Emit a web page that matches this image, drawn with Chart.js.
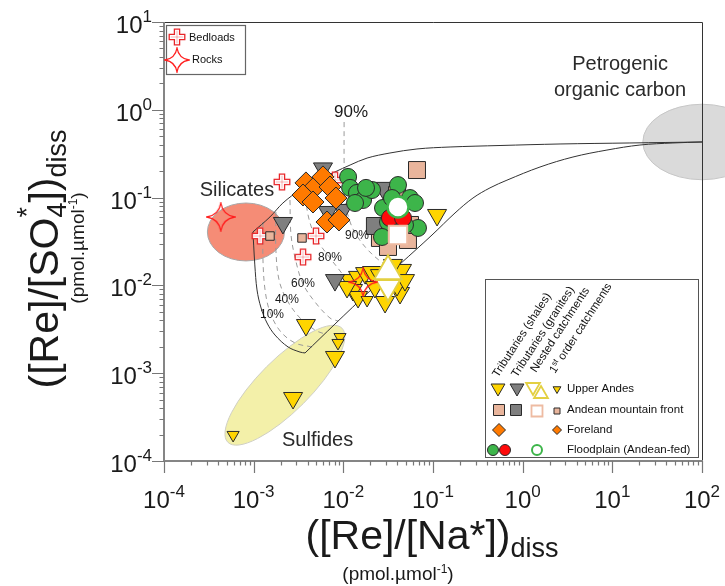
<!DOCTYPE html>
<html><head><meta charset="utf-8">
<script src="https://cdn.jsdelivr.net/npm/chart.js@4.4.1/dist/chart.umd.min.js"></script>
<style>html,body{margin:0;padding:0;background:#fff;}#wrap{width:725px;height:586px;}</style>
</head><body><div id="wrap"><canvas id="c" width="725" height="586"></canvas></div>
<script>
// ---------- tick labels (exponents of 10) ----------
const xTickExps = [-4, -3, -2, -1, 0, 1, 2];
const yTickExps = [-4, -3, -2, -1, 0, 1];

// ---------- Upper Andes ----------
const uaShaleX = [0.111, 3.83e-3, 8.07e-3, 2.75e-3, 1.19e-2, 1.46e-2, 1.75e-2, 2.09e-2, 1.28e-2, 1.46e-2, 2.92e-2, 4.29e-2, 3.97e-2, 4.51e-2, 3.58e-2, 2.56e-2, 4.87e-2, 2.25e-2, 1.10e-2];
const uaShaleY = [0.0634, 3.54e-3, 1.53e-3, 5.22e-4, 1.15e-2, 1.25e-2, 1.38e-2, 1.42e-2, 8.87e-3, 7.38e-3, 6.47e-3, 8.19e-3, 1.01e-2, 1.50e-2, 1.71e-2, 1.31e-2, 1.15e-2, 9.6e-3, 9.6e-3];
const uaGraniteX = [5.93e-3, 2.12e-3, 6.74e-3, 9.91e-3, 2.77e-2, 8.07e-3];
const uaGraniteY = [0.215, 0.0514, 0.0686, 0.0723, 0.129, 1.15e-2];
const uaNestedDownX = [3.15e-2];
const uaNestedDownY = [9.6e-3];
const uaNestedUpX = [3.15e-2];
const uaNestedUpY = [1.45e-2];
const uaFirstX = [9.18e-3, 8.72e-3, 5.9e-4, 1.84e-2];
const uaFirstY = [2.58e-3, 2.21e-3, 1.98e-4, 6.82e-3];

// ---------- Andean mountain front ----------
const amfShaleX = [6.63e-2, 2.56e-2, 5.26e-2, 3.15e-2, 3.97e-2, 5.54e-2];
const amfShaleY = [0.206, 0.0347, 0.0329, 0.0274, 0.107, 0.0488];
const amfGraniteX = [2.25e-2];
const amfGraniteY = [0.0475];
const amfNestedX = [4.07e-2];
const amfNestedY = [0.0375];
const amfFirstX = [1.52e-3, 3.46e-3];
const amfFirstY = [0.0365, 0.0347];

// ---------- Foreland ----------
const forelandX = [3.83e-3, 4.95e-3, 5.93e-3, 7.10e-3, 3.55e-3, 4.59e-3, 8.28e-3, 6.57e-3, 8.95e-3];
const forelandY = [0.147, 0.136, 0.172, 0.132, 0.107, 0.0891, 0.0989, 0.0527, 0.0556];

// ---------- Floodplain (Andean-fed) ----------
const floodGreenX = [1.13e-2, 1.19e-2, 1.42e-2, 1.66e-2, 1.35e-2, 2.09e-2, 4.07e-2, 5.54e-2, 6.30e-2, 2.77e-2, 3.15e-2, 2.70e-2, 6.80e-2, 4.87e-2, 3.49e-2, 1.79e-2];
const floodGreenY = [0.172, 0.129, 0.113, 0.0939, 0.0868, 0.122, 0.139, 0.0989, 0.0868, 0.0762, 0.0527, 0.0356, 0.0451, 0.0488, 0.0989, 0.129];
const floodRedX = [3.31e-2, 4.63e-2];
const floodRedY = [0.0586, 0.0586];
const floodNestedX = [4.07e-2];
const floodNestedY = [0.0782];

// ---------- Bedloads & rocks ----------
const bedloadX = [2.07e-3, 8.07e-3, 1.18e-3, 4.95e-3, 3.55e-3];
const bedloadY = [0.151, 0.158, 0.0365, 0.0365, 0.0210];
const rockX = [4.3e-4, 1.66e-2];
const rockY = [0.0602, 0.0109];

// ---------- mixing envelope ----------
const silToPocX = [9.8e-4, 1.52e-3, 2.12e-3, 3.29e-3, 5.22e-3, 8.07e-3, 1.19e-2, 1.84e-2, 3.31e-2, 6.63e-2, 0.155, 0.559, 2.61, 15.7, 100];
const silToPocY = [0.0406, 0.0602, 0.0868, 0.122, 0.158, 0.196, 0.235, 0.282, 0.322, 0.358, 0.377, 0.392, 0.408, 0.419, 0.430];
const sulToPocX = [3.74e-3, 8.07e-3, 1.98e-2, 4.29e-2, 9.75e-2, 0.176, 0.279, 0.432, 0.668, 1.56, 3.64, 8.71, 20.3, 47.4, 100];
const sulToPocY = [1.70e-3, 3.63e-3, 8.64e-3, 1.75e-2, 3.75e-2, 6.68e-2, 0.0989, 0.129, 0.158, 0.223, 0.290, 0.348, 0.397, 0.419, 0.430];
const silToSulX = [9.8e-4, 1.0e-3, 1.03e-3, 1.09e-3, 1.21e-3, 1.41e-3, 1.73e-3, 2.42e-3, 3.29e-3, 3.74e-3];
const silToSulY = [0.0406, 0.0288, 0.0171, 8.87e-3, 5.53e-3, 3.73e-3, 2.72e-3, 1.99e-3, 1.74e-3, 1.70e-3];

// ---------- fraction contours (dashed) ----------
const pct10X = [1.27e-3, 1.27e-3, 1.34e-3, 1.52e-3, 1.97e-3, 2.89e-3, 4.47e-3];
const pct10Y = [0.0527, 0.0195, 8.87e-3, 4.98e-3, 3.03e-3, 2.21e-3, 1.99e-3];
const pct40X = [1.77e-3, 1.77e-3, 1.92e-3, 2.35e-3, 3.29e-3, 4.83e-3, 6.24e-3];
const pct40Y = [0.0686, 0.0253, 0.0115, 6.82e-3, 4.25e-3, 3.10e-3, 2.79e-3];
const pct60X = [2.54e-3, 2.61e-3, 2.97e-3, 3.55e-3, 4.83e-3, 7.10e-3, 8.72e-3];
const pct60Y = [0.0939, 0.0375, 0.0185, 0.0104, 6.47e-3, 4.25e-3, 3.93e-3];
const pct80X = [3.74e-3, 4.04e-3, 4.95e-3, 7.10e-3, 9.91e-3, 1.25e-2, 1.46e-2];
const pct80Y = [0.129, 0.0634, 0.0347, 0.0205, 0.0131, 8.41e-3, 6.31e-3];
const pct90X = [1.02e-2, 1.02e-2, 1.04e-2, 1.19e-2, 1.42e-2, 1.88e-2, 2.56e-2, 3.58e-2];
const pct90Y = [0.726, 0.268, 0.0939, 0.0527, 0.0365, 0.0253, 0.0190, 0.0150];

// ---------- end-member fields & labels ----------
const regions = [
  {x: 8.2e-4, y: 0.0406, rx: 0.43, ry: 0.33, rot: 0, fill: '#F58C76', stroke: '#A8A8A8'},
  {x: 2.23e-3, y: 7.3e-4, rx: 0.90, ry: 0.29, rot: -45, fill: '#F3F0A9', stroke: '#CFCFC4'},
  {x: 100, y: 0.43, rx: 0.66, ry: 0.43, rot: 0, fill: '#DADADA', stroke: '#C6C6C6'}
];
const labelText = ['Silicates', 'Sulfides', 'Petrogenic', 'organic carbon', '90%', '90%', '80%', '60%', '40%', '10%'];
const labelX = [2.5e-4, 2.07e-3, 12.2, 12.2, 1.22e-2, 1.42e-2, 7.10e-3, 3.55e-3, 2.35e-3, 1.60e-3];
const labelY = [0.122, 1.73e-4, 3.24, 1.64, 0.944, 0.0365, 0.0205, 0.0104, 6.82e-3, 4.60e-3];

// =====================================================
const FONT = "'Liberation Sans', Arial, Helvetica, sans-serif";
const C = {yellow:'#FFD500', gray:'#7F7F7F', salmon:'#E9B59C', orange:'#FF7A00', green:'#3DB54A', red:'#FF0A0A',
  openYellow:'#E3D042', openSalmon:'#EEBBA2', edge:'#2A2A2A', crossRed:'#E8262A'};

function pts(xs, ys){ return xs.map((x, i) => ({x: x, y: ys[i]})); }

function makeCross(){
  const c = document.createElement('canvas'); c.width = 18; c.height = 18;
  const g = c.getContext('2d'); g.translate(9, 9);
  const a = 2.6, L = 7.8;
  g.beginPath();
  g.moveTo(-a,-L); g.lineTo(a,-L); g.lineTo(a,-a); g.lineTo(L,-a); g.lineTo(L,a); g.lineTo(a,a);
  g.lineTo(a,L); g.lineTo(-a,L); g.lineTo(-a,a); g.lineTo(-L,a); g.lineTo(-L,-a); g.lineTo(-a,-a); g.closePath();
  g.fillStyle = '#fff'; g.fill(); g.strokeStyle = C.crossRed; g.lineWidth = 1.3; g.stroke();
  g.beginPath(); g.moveTo(0,-L+1.5); g.lineTo(0,L-1.5); g.moveTo(-L+1.5,0); g.lineTo(L-1.5,0);
  g.strokeStyle = 'rgba(232,38,42,0.35)'; g.lineWidth = 1; g.stroke();
  return c;
}
function makeStar(size){
  const c = document.createElement('canvas'); c.width = size; c.height = size;
  const g = c.getContext('2d'); const h = size / 2, R = h - 1, k = R * 0.14;
  g.translate(h, h);
  g.beginPath(); g.moveTo(0, -R);
  g.quadraticCurveTo(k, -k, R, 0); g.quadraticCurveTo(k, k, 0, R);
  g.quadraticCurveTo(-k, k, -R, 0); g.quadraticCurveTo(-k, -k, 0, -R); g.closePath();
  g.strokeStyle = '#FF1E1E'; g.lineWidth = 1.3; g.stroke();
  return c;
}
const crossImg = makeCross();
const starImg = makeStar(30);
const starSmall = makeStar(26);

function pointSet(label, xs, ys, o){
  return Object.assign({label: label, data: pts(xs, ys), showLine: false, borderWidth: 1, borderColor: C.edge}, o);
}
function curve(label, xs, ys, dashed){
  return {label: label, data: pts(xs, ys), showLine: true, pointRadius: 0, borderColor: dashed ? '#9A9A9A' : '#333',
    borderWidth: 1, borderDash: dashed ? [5, 4] : [], tension: 0.35, fill: false, order: 100};
}

function measureRuns(ctx, runs){
  let w = 0, pend = 0;
  for (const r of runs){ ctx.font = (r.size) + 'px ' + FONT; const m = ctx.measureText(r.t).width;
    if (r.keep){ pend = m; } else { w += Math.max(m, pend); pend = 0; } }
  return w;
}
function drawRuns(ctx, runs, x, y, align){
  const w = measureRuns(ctx, runs);
  let cx = align === 'center' ? x - w / 2 : (align === 'right' ? x - w : x);
  let pend = 0; ctx.textAlign = 'left'; ctx.textBaseline = 'alphabetic';
  for (const r of runs){ ctx.font = (r.size) + 'px ' + FONT; const m = ctx.measureText(r.t).width;
    ctx.fillText(r.t, cx, y + (r.dy || 0));
    if (r.keep){ pend = m; } else { cx += Math.max(m, pend); pend = 0; } }
}
function shape(ctx, kind, x, y, r, fill, stroke, lw){
  ctx.beginPath();
  if (kind === 'down' || kind === 'up'){
    const s = kind === 'down' ? 1 : -1;
    ctx.moveTo(x, y + s * r); ctx.lineTo(x + r * 0.866, y - s * r / 2); ctx.lineTo(x - r * 0.866, y - s * r / 2); ctx.closePath();
  } else if (kind === 'square'){ ctx.rect(x - r, y - r, 2 * r, 2 * r); }
  else if (kind === 'diamond'){ ctx.moveTo(x, y - r); ctx.lineTo(x + r, y); ctx.lineTo(x, y + r); ctx.lineTo(x - r, y); ctx.closePath(); }
  else { ctx.arc(x, y, r, 0, Math.PI * 2); }
  ctx.fillStyle = fill; ctx.fill(); ctx.strokeStyle = stroke; ctx.lineWidth = lw; ctx.stroke();
}

const decor = {
  id: 'decor',
  beforeDatasetsDraw(chart){
    const ctx = chart.ctx, sx = chart.scales.x, sy = chart.scales.y;
    const dec = sx.getPixelForValue(10) - sx.getPixelForValue(1);
    const decY = sy.getPixelForValue(1) - sy.getPixelForValue(10);
    for (const r of regions){
      ctx.save(); ctx.beginPath();
      const rxp = r.rx * dec, ryp = r.rot ? r.ry * dec : r.ry * decY;
      ctx.ellipse(sx.getPixelForValue(r.x), sy.getPixelForValue(r.y), rxp, ryp, r.rot * Math.PI / 180, 0, Math.PI * 2);
      ctx.fillStyle = r.fill; ctx.fill(); ctx.strokeStyle = r.stroke; ctx.lineWidth = 1; ctx.stroke();
      ctx.restore();
    }
  },
  afterDatasetsDraw(chart){
    const ctx = chart.ctx, sx = chart.scales.x, sy = chart.scales.y, a = chart.chartArea;
    ctx.save();
    // frame
    ctx.strokeStyle = '#333'; ctx.lineWidth = 1;
    ctx.beginPath(); ctx.moveTo(a.left, a.top + 0.5); ctx.lineTo(a.right + 0.5, a.top + 0.5); ctx.lineTo(a.right + 0.5, a.bottom); ctx.stroke();
    ctx.strokeStyle = '#858585'; ctx.lineWidth = 2;
    ctx.beginPath(); ctx.moveTo(a.left, a.top); ctx.lineTo(a.left, a.bottom); ctx.lineTo(a.right + 1, a.bottom); ctx.stroke();
    // ticks
    ctx.lineWidth = 1.2; ctx.strokeStyle = '#777';
    ctx.beginPath();
    for (let e = -4; e <= 2; e++){
      const p = Math.round(sx.getPixelForValue(Math.pow(10, e))) + 0.5;
      ctx.moveTo(p, a.bottom); ctx.lineTo(p, a.bottom + 12);
      if (e < 2) for (let m = 2; m <= 9; m++){ const q = Math.round(sx.getPixelForValue(m * Math.pow(10, e))) + 0.5; ctx.moveTo(q, a.bottom); ctx.lineTo(q, a.bottom + 4.5); }
    }
    for (let e = -4; e <= 1; e++){
      const p = Math.round(sy.getPixelForValue(Math.pow(10, e))) + 0.5;
      ctx.moveTo(a.left, p); ctx.lineTo(a.left - 12, p);
      if (e < 1) for (let m = 2; m <= 9; m++){ const q = Math.round(sy.getPixelForValue(m * Math.pow(10, e))) + 0.5; ctx.moveTo(a.left, q); ctx.lineTo(a.left - 4.5, q); }
    }
    ctx.stroke();
    // tick labels
    ctx.fillStyle = '#1a1a1a';
    for (const e of xTickExps){
      drawRuns(ctx, [{t:'10', size:24}, {t:String(e), size:17, dy:-11}], sx.getPixelForValue(Math.pow(10, e)), a.bottom + 47, 'center');
    }
    for (const e of yTickExps){
      drawRuns(ctx, [{t:'10', size:24}, {t:String(e), size:17, dy:-11}], a.left - 12, sy.getPixelForValue(Math.pow(10, e)) + 11, 'right');
    }
    // axis titles
    drawRuns(ctx, [{t:'([Re]/[Na*])', size:41}, {t:'diss', size:27, dy:8}], 432, 549, 'center');
    drawRuns(ctx, [{t:'(pmol.\u00b5mol', size:19}, {t:'-1', size:12, dy:-7}, {t:')', size:19}], 398, 580, 'center');
    ctx.save(); ctx.translate(58, 259); ctx.rotate(-Math.PI / 2);
    drawRuns(ctx, [{t:'([Re]/[SO', size:41}, {t:'4', size:27, dy:8, keep:true}, {t:'*', size:27, dy:-22}, {t:'])', size:41}, {t:'diss', size:27, dy:8}], 0, 0, 'center');
    ctx.restore();
    ctx.save(); ctx.translate(84, 248); ctx.rotate(-Math.PI / 2);
    drawRuns(ctx, [{t:'(pmol.\u00b5mol', size:19}, {t:'-1', size:12, dy:-7}, {t:')', size:19}], 0, 0, 'center');
    ctx.restore();
    // annotations
    const sizes = [20, 20, 20, 20, 17, 12, 12, 12, 12, 12];
    const aligns = ['left', 'left', 'center', 'center', 'center', 'center', 'center', 'center', 'center', 'center'];
    ctx.textBaseline = 'middle';
    for (let i = 0; i < labelText.length; i++){
      ctx.font = sizes[i] + 'px ' + FONT; ctx.textAlign = aligns[i];
      ctx.fillStyle = i < 4 ? '#2a2a2a' : '#1a1a1a';
      ctx.fillText(labelText[i], sx.getPixelForValue(labelX[i]), sy.getPixelForValue(labelY[i]));
    }
    // legend 1
    ctx.fillStyle = '#fff'; ctx.fillRect(166, 25, 79, 49);
    ctx.strokeStyle = '#666'; ctx.lineWidth = 1.2; ctx.strokeRect(166.5, 25.5, 79, 49);
    ctx.drawImage(crossImg, 168, 28);
    ctx.drawImage(starSmall, 164, 47);
    ctx.fillStyle = '#111'; ctx.font = '11px ' + FONT; ctx.textAlign = 'left'; ctx.textBaseline = 'middle';
    ctx.fillText('Bedloads', 189, 37.5); ctx.fillText('Rocks', 192, 60);
    // legend 2
    ctx.fillStyle = '#fff'; ctx.fillRect(485, 279, 213, 178);
    ctx.strokeStyle = '#555'; ctx.lineWidth = 1; ctx.strokeRect(485.5, 279.5, 213, 178);
    ctx.fillStyle = '#111'; ctx.font = '11.5px ' + FONT; ctx.textBaseline = 'alphabetic';
    const heads = [[498, 378, 'Tributaries (shales)'], [517, 378, 'Tributaries (granites)'], [536, 373, 'Nested catchments']];
    for (const h of heads){ ctx.save(); ctx.translate(h[0], h[1]); ctx.rotate(-57 * Math.PI / 180); ctx.textAlign = 'left'; ctx.fillText(h[2], 0, 0); ctx.restore(); }
    ctx.save(); ctx.translate(555, 374); ctx.rotate(-57 * Math.PI / 180);
    drawRuns(ctx, [{t:'1', size:11.5}, {t:'st', size:8, dy:-4}, {t:' order catchments', size:11.5}], 0, 0, 'left'); ctx.restore();
    shape(ctx, 'down', 498, 388, 8, C.yellow, C.edge, 1);
    shape(ctx, 'down', 517, 388, 8, C.gray, C.edge, 1);
    shape(ctx, 'down', 533, 387, 8, '#fff', C.openYellow, 1.8);
    shape(ctx, 'up', 541, 394, 8, 'rgba(255,255,255,0)', C.openYellow, 1.8);
    shape(ctx, 'down', 557, 389, 4.5, C.yellow, C.edge, 1);
    shape(ctx, 'square', 499, 410, 5.5, C.salmon, C.edge, 1);
    shape(ctx, 'square', 516, 410, 5.5, C.gray, C.edge, 1);
    shape(ctx, 'square', 537, 411, 5.5, '#fff', C.openSalmon, 1.8);
    shape(ctx, 'square', 557, 411, 3, C.salmon, C.edge, 1);
    shape(ctx, 'diamond', 499, 430, 6.5, C.orange, C.edge, 1);
    shape(ctx, 'diamond', 557, 430, 4.5, C.orange, C.edge, 1);
    shape(ctx, 'circle', 493, 450, 5.5, C.green, C.edge, 1);
    shape(ctx, 'circle', 505, 450, 5.5, C.red, C.edge, 1);
    shape(ctx, 'circle', 537, 450, 5, '#fff', C.green, 2);
    ctx.fillStyle = '#111'; ctx.font = '11.5px ' + FONT; ctx.textAlign = 'left'; ctx.textBaseline = 'middle';
    ctx.fillText('Upper Andes', 567, 389); ctx.fillText('Andean mountain front', 567, 410);
    ctx.fillText('Foreland', 567, 430); ctx.fillText('Floodplain (Andean-fed)', 567, 450);
    ctx.restore();
  }
};

const datasets = [
  curve('Silicate–POC mixing', silToPocX, silToPocY, false),
  curve('Sulfide–POC mixing', sulToPocX, sulToPocY, false),
  curve('Silicate–sulfide mixing', silToSulX, silToSulY, false),
  curve('10%', pct10X, pct10Y, true),
  curve('40%', pct40X, pct40Y, true),
  curve('60%', pct60X, pct60Y, true),
  curve('80%', pct80X, pct80Y, true),
  curve('90%', pct90X, pct90Y, true),
  pointSet('Upper Andes – tributaries (shales)', uaShaleX, uaShaleY, {pointStyle:'triangle', rotation:180, pointRadius:11, backgroundColor:C.yellow, order:20}),
  pointSet('Upper Andes – tributaries (granites)', uaGraniteX, uaGraniteY, {pointStyle:'triangle', rotation:180, pointRadius:11, backgroundColor:C.gray, order:19}),
  pointSet('Upper Andes – 1st order', uaFirstX, uaFirstY, {pointStyle:'triangle', rotation:180, pointRadius:7, backgroundColor:C.yellow, order:18}),
  pointSet('Bedloads', bedloadX, bedloadY, {pointStyle:crossImg, pointRadius:8, order:17}),
  pointSet('Foreland', forelandX, forelandY, {pointStyle:'rectRot', pointRadius:11, backgroundColor:C.orange, order:16}),
  pointSet('Mountain front – tributaries (shales)', amfShaleX, amfShaleY, {pointStyle:'rect', pointRadius:12, backgroundColor:C.salmon, order:15}),
  pointSet('Mountain front – tributaries (granites)', amfGraniteX, amfGraniteY, {pointStyle:'rect', pointRadius:12, backgroundColor:C.gray, order:14}),
  pointSet('Floodplain', floodGreenX, floodGreenY, {pointStyle:'circle', pointRadius:8.5, backgroundColor:C.green, order:13}),
  pointSet('Mountain front – 1st order', amfFirstX, amfFirstY, {pointStyle:'rect', pointRadius:6, backgroundColor:C.salmon, order:12}),
  pointSet('Upper Andes – nested (down)', uaNestedDownX, uaNestedDownY, {pointStyle:'triangle', rotation:180, pointRadius:14, backgroundColor:'#fff', borderColor:C.openYellow, borderWidth:2, order:11}),
  pointSet('Upper Andes – nested (up)', uaNestedUpX, uaNestedUpY, {pointStyle:'triangle', pointRadius:16, backgroundColor:'#fff', borderColor:C.openYellow, borderWidth:2, order:10}),
  pointSet('Rocks', rockX, rockY, {pointStyle:starImg, pointRadius:14, order:9}),
  pointSet('Floodplain (red)', floodRedX, floodRedY, {pointStyle:'circle', pointRadius:8.5, backgroundColor:C.red, order:8}),
  pointSet('Mountain front – nested', amfNestedX, amfNestedY, {pointStyle:'rect', pointRadius:13, backgroundColor:'#fff', borderColor:C.openSalmon, borderWidth:2, order:7}),
  pointSet('Floodplain – nested', floodNestedX, floodNestedY, {pointStyle:'circle', pointRadius:10.5, backgroundColor:'#fff', borderColor:C.green, borderWidth:2.5, order:6})
];

new Chart(document.getElementById('c'), {
  type: 'scatter',
  data: {datasets: datasets},
  options: {
    responsive: false, animation: false, devicePixelRatio: 1, events: [],
    layout: {padding: {left: 164, right: 23, top: 22, bottom: 125}},
    plugins: {legend: {display: false}, tooltip: {enabled: false}},
    scales: {
      x: {type: 'logarithmic', min: 1e-4, max: 100, display: false},
      y: {type: 'logarithmic', min: 1e-4, max: 10, display: false}
    }
  },
  plugins: [decor]
});
</script></body></html>
